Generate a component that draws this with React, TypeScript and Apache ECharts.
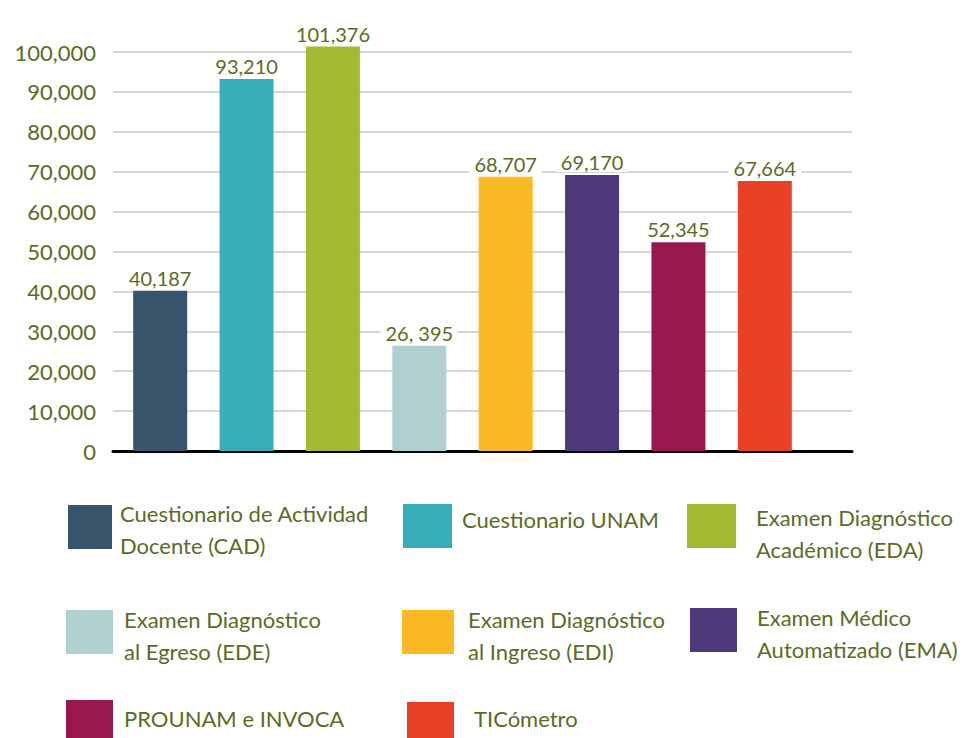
import React, { useEffect, useRef } from "react";
import * as echarts from "echarts";

const categories = ["CAD", "UNAM", "EDA", "EDE", "EDI", "EMA", "PROUNAM", "TIC"];
const values = [40187, 93210, 101376, 26395, 68707, 69170, 52345, 67664];
const valueLabels = ["40,187", "93,210", "101,376", "26, 395", "68,707", "69,170", "52,345", "67,664"];
const colors = ["#37546b", "#38afb8", "#a3bb33", "#afd0cf", "#fbb923", "#4d3979", "#96184f", "#e74225"];
const legendNames = [
  "Cuestionario de Actividad\nDocente (CAD)",
  "Cuestionario UNAM",
  "Examen Diagnóstico\nAcadémico (EDA)",
  "Examen Diagnóstico\nal Egreso (EDE)",
  "Examen Diagnóstico\nal Ingreso (EDI)",
  "Examen Médico\nAutomatizado (EMA)",
  "PROUNAM e INVOCA",
  "TICómetro",
];
const yMin = 0;
const yMax = 100000;
const yInterval = 10000;

// legend layout: [rectX, rectY, rectW, rectH, textX, textCenterY]
const legendLayout = [
  [68, 505, 44, 44, 120, 529],
  [403, 504, 49, 44, 462, 519],
  [687, 504, 49, 44, 756, 533],
  [66, 610, 47, 44, 124, 635],
  [402, 610, 52, 44, 468, 635],
  [690, 608, 47, 44, 757, 633],
  [66, 700, 47, 38, 124, 718],
  [407, 702, 47, 36, 474, 718],
];

const TEXT = "#5b6b1f";
const FONT = "Lato";

export default function App() {
  const ref = useRef<HTMLDivElement>(null);
  useEffect(() => {
    if (!ref.current) return;
    const chart = echarts.init(ref.current, undefined, { renderer: "svg" });
    const graphics: any[] = [];
    legendNames.forEach((name, i) => {
      const [rx, ry, rw, rh, tx, ty] = legendLayout[i];
      graphics.push({
        type: "rect",
        shape: { x: rx, y: ry, width: rw, height: rh },
        style: { fill: colors[i] },
      });
      graphics.push({
        type: "text",
        x: tx,
        y: ty,
        style: {
          text: name,
          fill: TEXT,
          fontSize: 22,
          fontFamily: FONT,
          lineHeight: 32,
          verticalAlign: "middle",
          align: "left",
        },
      });
    });
    chart.setOption({
      animation: false,
      backgroundColor: "#ffffff",
      textStyle: { fontFamily: FONT },
      grid: [
        { left: 113, right: 119, top: 52, bottom: 287, containLabel: false },
        { left: 117, right: 163, top: 52, bottom: 287, containLabel: false },
      ],
      xAxis: [
        {
          type: "category",
          gridIndex: 0,
          data: categories,
          axisLine: { show: true, lineStyle: { color: "#000000", width: 3 } },
          axisTick: { show: false },
          axisLabel: { show: false },
        },
        {
          type: "category",
          gridIndex: 1,
          data: categories,
          axisLine: { show: false },
          axisTick: { show: false },
          axisLabel: { show: false },
        },
      ],
      yAxis: [
        {
          type: "value",
          gridIndex: 0,
          min: yMin,
          max: yMax,
          interval: yInterval,
          axisLine: { show: false },
          axisTick: { show: false },
          axisLabel: {
            color: TEXT,
            fontSize: 22,
            fontFamily: FONT,
            margin: 17,
            formatter: (v: number) => v.toLocaleString("en-US"),
          },
          splitLine: { lineStyle: { color: "#c9c9c9", width: 1.5 } },
        },
        {
          type: "value",
          gridIndex: 1,
          min: yMin,
          max: yMax,
          interval: yInterval,
          show: false,
          splitLine: { show: false },
        },
      ],
      graphic: graphics,
      series: [
        {
          type: "bar",
          xAxisIndex: 1,
          yAxisIndex: 1,
          barWidth: 54,
          clip: false,
          data: values.map((v, i) => ({
            value: v,
            itemStyle: { color: colors[i] },
            label: { formatter: valueLabels[i] },
          })),
          label: {
            show: true,
            position: "top",
            distance: 3,
            color: TEXT,
            fontSize: 20,
            fontFamily: FONT,
            backgroundColor: "#ffffff",
            padding: [0, 5],
          },
          z: 3,
        },
      ],
    });
    return () => chart.dispose();
  }, []);
  return <div ref={ref} style={{ width: 971, height: 738, position: "absolute", left: 0, top: 0 }} />;
}
